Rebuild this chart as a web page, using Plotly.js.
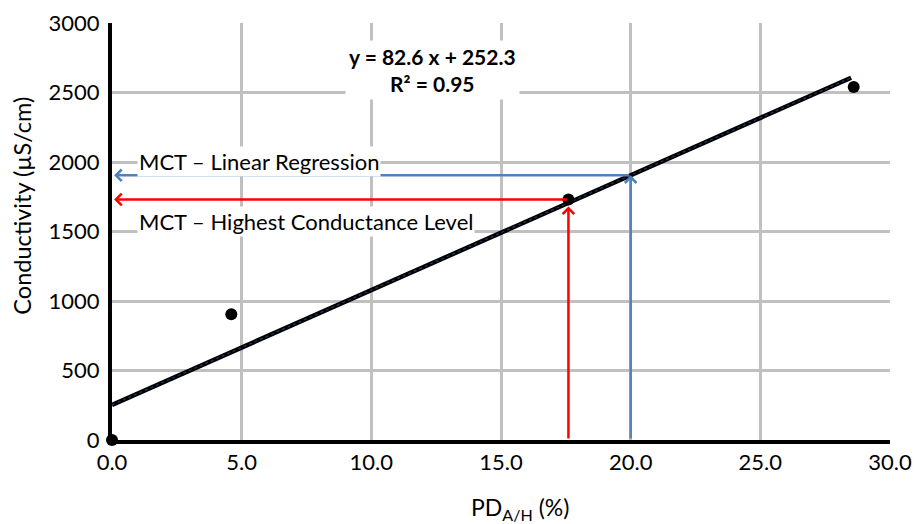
<!DOCTYPE html>
<html>
<head>
<meta charset="utf-8">
<script src="https://cdn.plot.ly/plotly-3.0.1.min.js"></script>
<style>html,body{margin:0;padding:0;background:#fff;}#chart{width:916px;height:524px;}</style>
</head>
<body>
<div id="chart"></div>
<script>
// Measured data
const pdX = [0.0, 4.6, 17.6, 28.6];
const conductivity = [0, 905, 1730, 2540];
// Trendline y = 82.6 x + 252.3 over the data range
const trendX = [0.0, 28.5];
const trendY = [252.3, 2606.4];
// MCT reference levels: [highest conductance, linear regression]
const mctNames = ['MCT – Highest Conductance Level', 'MCT – Linear Regression'];
const mctX = [17.6, 20.0];
const mctY = [1730, 1904];
const mctColors = ['#ff0000', '#4f81bd'];
const eqLines = ['y = 82.6 x + 252.3', 'R² = 0.95'];
const xTitle = 'PD<sub>A/H</sub> (%)';
const yTitle = 'Conductivity (µS/cm)';

const FONT = 'Lato, "Open Sans", sans-serif';

const traces = [
  {x: trendX, y: trendY, mode: 'lines', line: {color: '#000', width: 4.5}, hoverinfo: 'skip'},
  {x: trendX, y: trendY, mode: 'lines', line: {color: '#1f3a68', width: 1.2, dash: 'dot'}, hoverinfo: 'skip'},
  {x: pdX, y: conductivity, mode: 'markers', marker: {color: '#000', size: 12}, cliponaxis: false}
];

const annotations = [];
const upTipOffset = [50, 0];
for (let i = 0; i < mctX.length; i++) {
  annotations.push({
    x: mctX[i], y: mctY[i] - upTipOffset[i], ax: mctX[i], ay: 0,
    xref: 'x', yref: 'y', axref: 'x', ayref: 'y',
    showarrow: true, arrowhead: 4, arrowsize: 0.9, arrowwidth: 2.5,
    arrowcolor: mctColors[i], text: ''
  });
  annotations.push({
    x: 0.08, y: mctY[i], ax: mctX[i], ay: mctY[i],
    xref: 'x', yref: 'y', axref: 'x', ayref: 'y',
    showarrow: true, arrowhead: 4, arrowsize: 0.9, arrowwidth: 2.5,
    arrowcolor: mctColors[i], text: ''
  });
}
annotations.push({
  x: 0.95, y: 2007, xref: 'x', yref: 'y', xanchor: 'left', yanchor: 'middle',
  text: mctNames[1], showarrow: false, bgcolor: '#fff', borderpad: 1,
  font: {family: FONT, size: 22, color: '#000'}
});
annotations.push({
  x: 0.95, y: 1575, xref: 'x', yref: 'y', xanchor: 'left', yanchor: 'middle',
  text: mctNames[0], showarrow: false, bgcolor: '#fff', borderpad: 1,
  font: {family: FONT, size: 22, color: '#000'}
});
annotations.push({
  x: 12.35, y: 2665, xref: 'x', yref: 'y', xanchor: 'center', yanchor: 'middle',
  text: eqLines.map(s => '<b>' + s + '</b>').join('<br>'), showarrow: false,
  bgcolor: '#fff', borderpad: 3,
  font: {family: FONT, size: 21, color: '#000'}
});
// axis titles placed as annotations (offset like the reference)
annotations.push({
  x: 0.5244, y: -0.165, xref: 'paper', yref: 'paper', xanchor: 'center', yanchor: 'middle',
  text: xTitle, showarrow: false, font: {family: FONT, size: 23, color: '#000'}
});
annotations.push({
  x: -0.1157, y: 0.562, xref: 'paper', yref: 'paper', xanchor: 'center', yanchor: 'middle',
  text: yTitle, textangle: -90, showarrow: false, font: {family: FONT, size: 23.5, color: '#000'}
});

const layout = {
  width: 916, height: 524,
  margin: {l: 112, r: 26, t: 23, b: 84},
  paper_bgcolor: '#fff', plot_bgcolor: '#fff',
  showlegend: false,
  font: {family: FONT, color: '#000'},
  xaxis: {
    range: [0, 30], dtick: 5, tick0: 0, tickformat: '.1f',
    showgrid: true, gridcolor: '#c0c0c0', gridwidth: 3,
    showline: true, linecolor: '#000', linewidth: 4, zeroline: false,
    ticks: '', tickfont: {family: FONT, size: 22, color: '#000'}
  },
  yaxis: {
    range: [0, 3000], dtick: 500, tick0: 0,
    showgrid: true, gridcolor: '#c0c0c0', gridwidth: 3,
    showline: true, linecolor: '#000', linewidth: 4, zeroline: false,
    ticks: '', ticklabelstandoff: 4, tickfont: {family: FONT, size: 22, color: '#000'}
  },
  annotations: annotations
};

Plotly.newPlot('chart', traces, layout, {displayModeBar: false, staticPlot: true});
</script>
</body>
</html>
